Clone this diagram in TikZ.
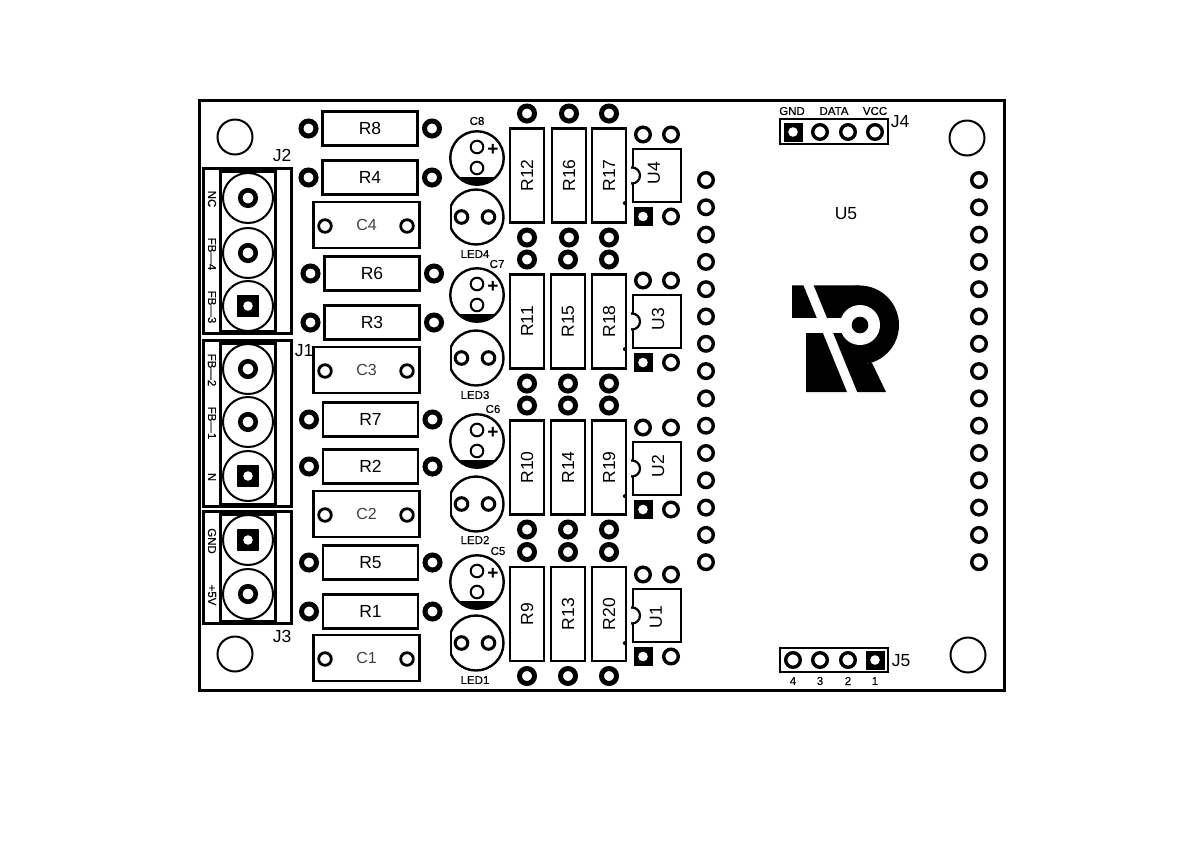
\documentclass[tikz,border=0pt]{standalone}
\usepackage{fontspec}
\setmainfont{Liberation Sans}
\newfontface\heavyface[FakeBold=0.4]{Liberation Sans}
\newcommand{\lbl}[1]{\fontsize{#1}{#1}\selectfont}
\begin{document}
\begin{tikzpicture}
    [x=1pt, y=-1pt,
     part/.style={draw, line width=2.6pt, fill=white, inner sep=0pt, font=\lbl{17.5}},
     hres/.style={part, minimum width=95pt, minimum height=33.5pt},
     vres/.style={part, minimum width=34pt, minimum height=94pt},
     film/.style={part, minimum width=106.5pt, minimum height=46pt, font=\lbl{16}, text=black!75},
     chip/.style={part, minimum width=48pt, minimum height=53pt, line width=2.2pt},
     bigpad/.style={draw, circle, line width=5pt, minimum size=15pt, inner sep=0pt},
     termpad/.style={draw, circle, line width=4.6pt, minimum size=15.5pt, inner sep=0pt},
     rowpad/.style={draw, circle, line width=3.4pt, minimum size=14.6pt, inner sep=0pt},
     thinpad/.style={draw, circle, line width=2.8pt, minimum size=12.6pt, inner sep=0pt},
     firstpad/.style={draw, fill=black, minimum size=18pt, inner sep=0pt, path picture={\fill[white] (path picture bounding box.center) circle (4.8pt);}},
     smalltxt/.style={inner sep=0pt, font=\lbl{11.5}\heavyface},
     bigtxt/.style={inner sep=0pt, font=\lbl{17.5}}]
    \useasboundingbox (0,0) rectangle (1200,863);
    % board and mounting holes
    \draw[line width=3pt] (199,100) rectangle (1004,690);
    \foreach \hole/\x/\y in {ma/235/137, mb/235/654, mc/967/138, md/968/655}
        \node[draw, circle, line width=2pt, minimum size=35pt, inner sep=0pt] (\hole) at (\x,\y) {};
    % terminal blocks
    \foreach \blk/\top/\bot in {J2/168/333, J1/340/506, J3/511/623} {
        \draw[line width=3pt] (203,\top) rectangle (291,\bot);
        \draw[line width=3pt] (220,\top+3) rectangle (275,\bot-2);
    }
    \foreach \term/\y/\txt in {ta/198/NC, tb/253/FB\textemdash4, tc/306/FB\textemdash3, td/369/FB\textemdash2, te/422/FB\textemdash1, tf/476/N, tg/540/GND, th/594/+5V} {
        \node[draw, circle, line width=2pt, minimum size=50pt, inner sep=0pt] (\term) at (248,\y) {};
        \node[smalltxt, rotate=-90] (\term txt) at (212,\y+1) {\txt};
    }
    \foreach \term in {ta, tb, td, te, th}
        \node[termpad] at (\term) {};
    \foreach \term in {tc, tf, tg}
        \node[firstpad, minimum size=21pt] at (\term) {};
    \node[bigtxt] (J2) at (282,155) {J2};
    \node[bigtxt] (J1) at (304,351) {J1};
    \node[bigtxt] (J3) at (282,636) {J3};
    % horizontal resistors
    \foreach \name/\x/\y in {R8/370/128.5, R4/370/177.5, R6/372/273.5, R3/372/322.5, R7/370.5/419.5, R2/370.5/466.5, R5/370.5/562.5, R1/370.5/611.5} {
        \node[hres] (\name) at (\x,\y) {\name};
        \node[bigpad] (\name a) at ([xshift=-61.5pt]\name.center) {};
        \node[bigpad] (\name b) at ([xshift=62pt]\name.center) {};
    }
    % film capacitors
    \foreach \name/\y in {C4/225, C3/370, C2/514, C1/658} {
        \node[film] (\name) at (366.5,\y) {\name};
        \node[thinpad] (\name a) at (325,\y+1) {};
        \node[thinpad] (\name b) at (407,\y+1) {};
    }
    % electrolytics
    \foreach \name/\y/\lx/\ly in {C8/158/477/121, C7/295/497/264, C6/441/493/409, C5/582/498/551} {
        \begin{scope}
            \clip (477,\y) circle (27pt);
            \fill (447,\y+19) rectangle (507,\y+30);
        \end{scope}
        \node[draw, circle, line width=2.4pt, minimum size=53.5pt, inner sep=0pt] (\name) at (477,\y) {};
        \node[thinpad, line width=2pt] (\name a) at (477,\y-11) {};
        \node[thinpad, line width=2pt] (\name b) at (477,\y+10) {};
        \node[inner sep=0pt, font=\lbl{19}\bfseries] (\name p) at (493,\y-8) {+};
        \node[smalltxt] (\name t) at (\lx,\ly) {\name};
    }
    % leds
    \foreach \name/\y/\ly in {LED4/217/254, LED3/358/395, LED2/504/540, LED1/643/680} {
        \begin{scope}
            \clip (450,\y-30) rectangle (506,\y+30);
            \draw[line width=2.4pt] (476,\y) circle (27.5pt);
        \end{scope}
        \draw[line width=2.4pt] (451,\y-11) -- (451,\y+11);
        \node[thinpad, line width=3pt] (\name a) at (461.5,\y) {};
        \node[thinpad, line width=3pt] (\name b) at (488.5,\y) {};
        \node[smalltxt] (\name t) at (475,\ly) {\name};
    }
    % vertical resistors
    \foreach \name/\x/\y in {R12/527/175.5, R16/569/175.5, R17/609/175.5,
                             R11/527/321.5, R15/568/321.5, R18/609/321.5,
                             R10/527/467.5, R14/568/467.5, R19/609/467.5,
                             R9/527/614, R13/568/614, R20/609/614} {
        \node[vres] (\name) at (\x,\y) {};
        \node[bigtxt, rotate=90] (\name t) at (\name.center) {\name};
        \node[bigpad] (\name a) at ([yshift=62pt]\name.center) {};
        \node[bigpad] (\name b) at ([yshift=-62pt]\name.center) {};
    }
    % optocouplers
    \foreach \name/\y/\tx/\ty in {U4/175.5/654/173, U3/321.5/658/319, U2/468.5/658/466, U1/615.5/656/617} {
        \node[chip] (\name) at (657,\y) {};
        \begin{scope}
            \clip (631,\y-12) rectangle (645,\y+12);
            \fill[white] (632,\y) circle (8pt);
            \draw[line width=2.2pt] (632,\y) circle (8pt);
        \end{scope}
        \node[inner sep=0pt, font=\lbl{17.5}, rotate=90] (\name t) at (\tx,\ty) {\name};
        \fill ([xshift=-7pt]\name.south west) circle (2pt);
        \node[rowpad] (\name a) at (643,\y-41) {};
        \node[rowpad] (\name b) at (671,\y-41) {};
        \node[firstpad] (\name c) at (643,\y+41) {};
        \node[rowpad] (\name d) at (671,\y+41) {};
    }
    % module header rows
    \foreach \i in {0,...,14} {
        \node[rowpad] (pl\i) at (706,180+\i*27.3) {};
        \node[rowpad] (pr\i) at (979,180+\i*27.3) {};
    }
    \node[bigtxt] (U5) at (846,214) {U5};
    % connectors
    \node[draw, line width=2.2pt, minimum width=108pt, minimum height=25.5pt, inner sep=0pt] (J4) at (834,131.5) {};
    \node[draw, line width=2.2pt, minimum width=108pt, minimum height=24.5pt, inner sep=0pt] (J5) at (834,660) {};
    \node[firstpad] (J4a) at (793,132) {};
    \node[rowpad] (J4b) at (820,132) {};
    \node[rowpad] (J4c) at (848,132) {};
    \node[rowpad] (J4d) at (875,132) {};
    \node[rowpad] (J5a) at (793,660) {};
    \node[rowpad] (J5b) at (820,660) {};
    \node[rowpad] (J5c) at (848,660) {};
    \node[firstpad] (J5d) at (875,660) {};
    \node[smalltxt] (J4ta) at (792,111) {GND};
    \node[smalltxt] (J4tb) at (834,111) {DATA};
    \node[smalltxt] (J4tc) at (875,111) {VCC};
    \node[smalltxt] (J5ta) at (793,681) {4};
    \node[smalltxt] (J5tb) at (820,681) {3};
    \node[smalltxt] (J5tc) at (848,681) {2};
    \node[smalltxt] (J5td) at (875,681) {1};
    \node[bigtxt] (J4t) at (900,122) {J4};
    \node[bigtxt] (J5t) at (901,661) {J5};
    % logo
    \fill (859.5,325) circle (39.5pt);
    \fill (792,285.3) -- (860,285.3) -- (860,364) -- (872,363) -- (886,392) -- (806,392) -- (806,333) -- (792,318) -- cycle;
    \fill[white] (786,318) rectangle (850,333);
    \fill[white] (803,284) -- (813,284) -- (857.5,393) -- (847.5,393) -- cycle;
    \fill[white] (860,325) circle (20pt);
    \fill (860,325) circle (8.3pt);
\end{tikzpicture}
\end{document}
